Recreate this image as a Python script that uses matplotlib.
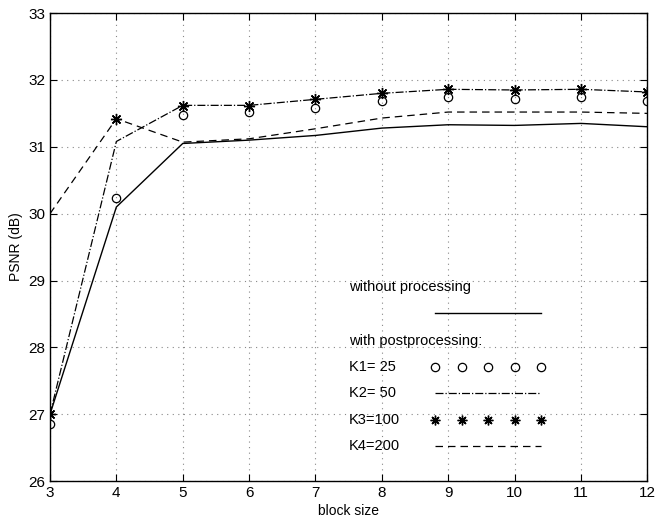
import matplotlib
matplotlib.use("Agg")
import matplotlib.pyplot as plt

plt.rcParams['font.family'] = ['Liberation Sans', 'DejaVu Sans']

block_size = [3, 4, 5, 6, 7, 8, 9, 10, 11, 12]
no_proc = [27.0, 30.1, 31.05, 31.1, 31.17, 31.28, 31.33, 31.32, 31.35, 31.3]
k1_25 = [26.85, 30.23, 31.47, 31.52, 31.58, 31.69, 31.74, 31.71, 31.74, 31.68]
k2_50 = [27.0, 31.08, 31.62, 31.62, 31.71, 31.8, 31.86, 31.85, 31.86, 31.82]
k3_100 = [27.0, 31.41, 31.61, 31.61, 31.71, 31.81, 31.87, 31.85, 31.87, 31.82]
k4_200 = [30.0, 31.42, 31.07, 31.12, 31.27, 31.43, 31.52, 31.52, 31.52, 31.5]

fig = plt.figure(figsize=(6.63, 5.23), dpi=100)
ax = fig.add_axes([0.0754, 0.080, 0.901, 0.895])

ax.plot(block_size, no_proc, '-', color='black', lw=1.0)
ax.plot(block_size, k1_25, 'o', mfc='none', mec='black', ms=6, mew=0.9)
ax.plot(block_size, k2_50, '-.', color='black', lw=0.9)
ax.plot(block_size, k3_100, ls='none', marker=(8, 2, 0), color='black', ms=8, mew=1.0)
ax.plot(block_size, k4_200, '--', color='black', lw=0.9, dashes=(6, 4))

ax.set_xlim(3, 12)
ax.set_ylim(26, 33)
ax.set_xticks(range(3, 13))
ax.set_yticks(range(26, 34))
ax.grid(True, ls=(0, (1, 4)), color='#888888', lw=0.8)
ax.tick_params(direction='in', top=True, right=True, labelsize=11, length=5)
for s in ax.spines.values():
    s.set_linewidth(1.0)
ax.set_xlabel("block size", fontsize=10, labelpad=3)
ax.set_ylabel("PSNR (dB)", fontsize=10, labelpad=4)

# hand-built legend inside the axes
fs = 10.5
ax.text(7.5, 28.9, "without processing", fontsize=fs, va='center')
ax.plot([8.8, 10.4], [28.52, 28.52], '-', color='black', lw=1.0)
ax.text(7.5, 28.1, "with postprocessing:", fontsize=fs, va='center')
xs = [8.8, 9.2, 9.6, 10.0, 10.4]
ax.text(7.5, 27.71, "K1= 25", fontsize=fs, va='center')
ax.plot(xs, [27.71] * 5, 'o', mfc='none', mec='black', ms=6, mew=0.9)
ax.text(7.5, 27.32, "K2= 50", fontsize=fs, va='center')
ax.plot([8.8, 10.4], [27.32, 27.32], '-.', color='black', lw=0.9)
ax.text(7.5, 26.92, "K3=100", fontsize=fs, va='center')
ax.plot(xs, [26.92] * 5, ls='none', marker=(8, 2, 0), color='black', ms=7, mew=1.0)
ax.text(7.5, 26.53, "K4=200", fontsize=fs, va='center')
ax.plot([8.8, 10.4], [26.53, 26.53], '--', color='black', lw=0.9, dashes=(6, 4))

fig.savefig("out.png", dpi=100)
